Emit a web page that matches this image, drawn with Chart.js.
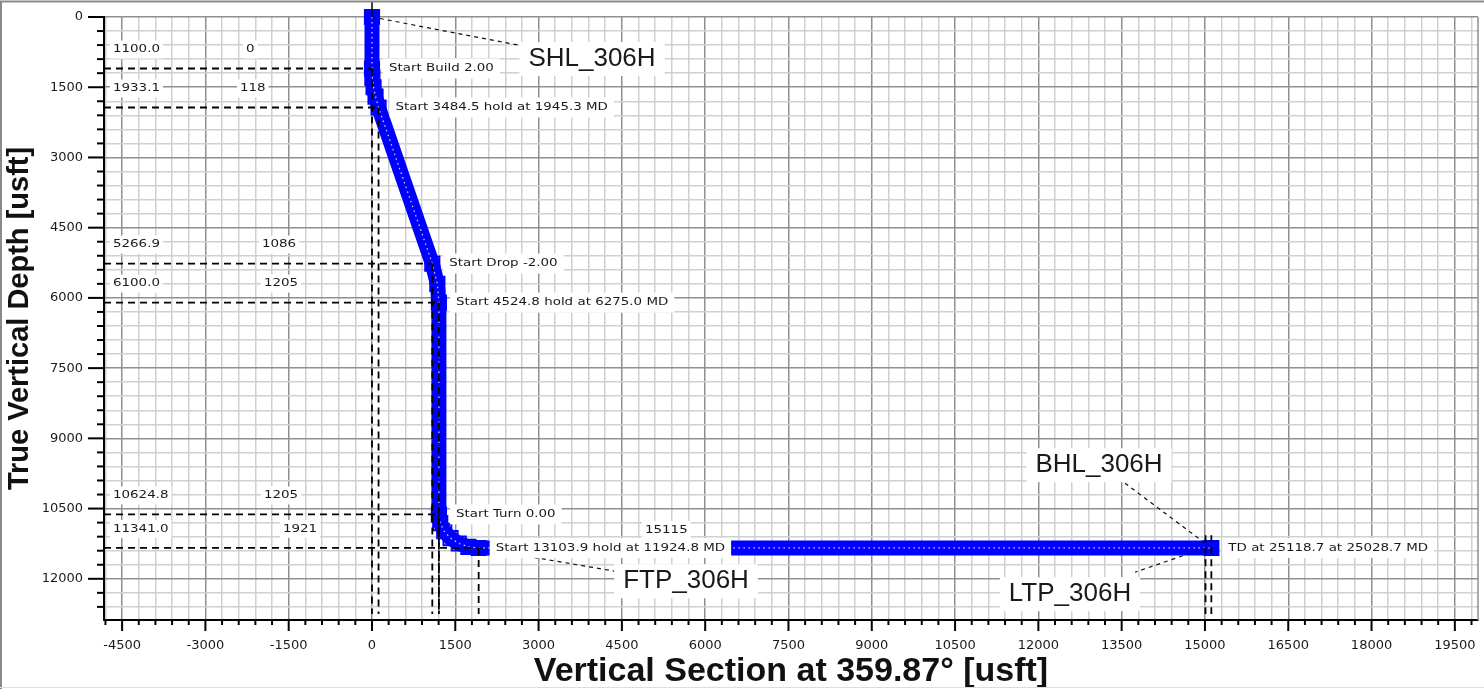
<!DOCTYPE html>
<html lang="en">
<head>
<meta charset="UTF-8" />
<title>Vertical Section 306H</title>
<script src="https://cdn.jsdelivr.net/npm/chart.js"></script>
<style>
  html, body { margin: 0; padding: 0; background: #fff; }
  canvas { display: block; }
</style>
</head>
<body>
<canvas id="secao" width="1484" height="689"></canvas>
<script>
// well path stations (vertical section / TVD, usft)
var pathVs  = [0, 0, 7, 28, 64, 118, 1086, 1177, 1205, 1205, 1229, 1301, 1415, 1563, 1736, 1921, 15115];
var pathTvd = [0, 1100, 1300, 1500, 1700, 1933.1, 5266.9, 5700, 6100, 10624.8, 10810, 10983, 11131, 11245, 11317, 11341, 11341];

// section points with their dashed guide lines
var secTvd = [1100.0, 1933.1, 5266.9, 6100.0, 10624.8, 11341.0];
var secVs = [0, 118, 1086, 1205, 1205, 1921];
var secNotes = ['Start Build 2.00', 'Start 3484.5 hold at 1945.3 MD', 'Start Drop -2.00',
  'Start 4524.8 hold at 6275.0 MD', 'Start Turn 0.00', 'Start 13103.9 hold at 11924.8 MD'];

var tdVs = 15115;
var tdTvd = 11341;
var tdNote = 'TD at 25118.7 at 25028.7 MD';

var targetNames = ['SHL_306H', 'FTP_306H', 'LTP_306H', 'BHL_306H'];
var targetVs = [0, 1921, 15010, 15115];
var targetTvd = [0, 11341, 11341, 11341];

var xMajor = [-4500, -3000, -1500, 0, 1500, 3000, 4500, 6000, 7500, 9000, 10500, 12000, 13500, 15000, 16500, 18000, 19500];
var yMajor = [0, 1500, 3000, 4500, 6000, 7500, 9000, 10500, 12000];

var X_MIN = -4826, X_MAX = 19917, Y_MAX = 12880;
var PE_GUIA = 12750;     // where the dropped guides stop
var ALVO_TOPO = 11070;   // top of the LTP/BHL marks

// placement only (not data)
var layoutCfg = {
  vsColX: [246, 240, 262, 264, 264, 283],
  tdVsX: 645,
  calloutAt: [[3962, 897], [5655, 12051], [12570, 12329], [13092, 9573]],
  leaderEnd: [[2629, 598], [4376, 11838], [13740, 11859], [13560, 9957]]
};

var FONTE_PEQ = "11px 'DejaVu Sans'";
var FONTE_ALVO = "26px 'Liberation Sans', Arial";

function pontos(vs, tvd) {
  return vs.map(function (v, i) { return { x: v, y: tvd[i] }; });
}

function grade(inicio, fim) {
  var v = [];
  for (var t = inicio; t <= fim; t += 300) v.push({ value: t });
  return v;
}

// keep the plot box where it is: no extra room for overhanging labels
function semFolga(s) {
  s.paddingTop = 0; s.paddingBottom = 0; s.paddingLeft = 0; s.paddingRight = 0;
}

function caixaTexto(ctx, txt, x, y, fonte, esticar, alinhar, padX, meiaAlt) {
  ctx.save();
  ctx.font = fonte;
  var w = ctx.measureText(txt).width * esticar;
  var x0 = alinhar === 'center' ? x - w / 2 : x;
  ctx.fillStyle = '#fff';
  ctx.fillRect(x0 - padX, y - meiaAlt, w + 2 * padX, 2 * meiaAlt);
  ctx.translate(x0, y);
  ctx.scale(esticar, 1);
  ctx.fillStyle = '#1a1a1a';
  ctx.textAlign = 'left';
  ctx.textBaseline = 'middle';
  ctx.fillText(txt, 0, 0);
  ctx.restore();
}

var guias = [];
secTvd.forEach(function (t, i) {
  guias.push([{ x: X_MIN, y: t }, { x: secVs[i], y: t }]);
  guias.push([{ x: secVs[i], y: t }, { x: secVs[i], y: PE_GUIA }]);
});
[2, 3].forEach(function (i) {
  guias.push([{ x: targetVs[i], y: ALVO_TOPO }, { x: targetVs[i], y: PE_GUIA }]);
});

var datasets = guias.map(function (g) {
  return {
    data: g, showLine: true, borderColor: '#000', borderWidth: 1.8,
    borderDash: [7, 5], pointRadius: 0, order: 1
  };
});

datasets.push({
  data: [{ x: 0, y: -320 }, { x: 0, y: 0 }], showLine: true, borderColor: '#000',
  borderWidth: 1.5, pointRadius: 0, order: 1, clip: false
});

datasets.push({
  label: 'Plan 306H', data: pontos(pathVs, pathTvd), showLine: true,
  borderColor: '#0000ff', borderWidth: 15, borderCapStyle: 'square',
  pointStyle: 'rect', pointRadius: 10, pointBorderColor: '#0000ff',
  pointBackgroundColor: 'rgba(0,0,0,0)', pointBorderWidth: 2,
  order: 4, clip: { left: 0, top: false, right: 0, bottom: 0 }
});

datasets.push({
  data: pontos(pathVs, pathTvd), showLine: true, borderColor: 'rgba(255,255,255,0.85)',
  borderWidth: 1.2, borderDash: [1.5, 3.5], pointRadius: 0, order: 3,
  clip: { left: 0, top: false, right: 0, bottom: 0 }
});

var anotacoes = {
  id: 'anotacoes',
  beforeDraw: function (chart) {
    var ctx = chart.ctx;
    ctx.save();
    ctx.fillStyle = '#fff';
    ctx.fillRect(0, 0, chart.width, chart.height);
    ctx.restore();
  },
  afterDatasetsDraw: function (chart) {
    var ctx = chart.ctx, xs = chart.scales.x, ys = chart.scales.y, area = chart.chartArea;

    // leader lines to the target names
    ctx.save();
    ctx.strokeStyle = '#111';
    ctx.lineWidth = 1.2;
    ctx.setLineDash([4, 4]);
    targetNames.forEach(function (n, i) {
      ctx.beginPath();
      ctx.moveTo(xs.getPixelForValue(targetVs[i]), ys.getPixelForValue(targetTvd[i]));
      ctx.lineTo(xs.getPixelForValue(layoutCfg.leaderEnd[i][0]), ys.getPixelForValue(layoutCfg.leaderEnd[i][1]));
      ctx.stroke();
    });
    ctx.restore();

    // notes next to the well
    secNotes.forEach(function (t, i) {
      caixaTexto(ctx, t, xs.getPixelForValue(secVs[i]) + 17, ys.getPixelForValue(secTvd[i]),
        FONTE_PEQ, 1.22, 'left', 6, 10);
    });
    caixaTexto(ctx, tdNote, xs.getPixelForValue(tdVs) + 17, ys.getPixelForValue(tdTvd),
      FONTE_PEQ, 1.22, 'left', 6, 10);

    // TVD / VS table above each guide
    secTvd.forEach(function (t, i) {
      var py = ys.getPixelForValue(t) - 19;
      caixaTexto(ctx, t.toFixed(1), area.left + 9, py, FONTE_PEQ, 1.22, 'left', 3, 9);
      caixaTexto(ctx, String(secVs[i]), layoutCfg.vsColX[i], py, FONTE_PEQ, 1.22, 'left', 3, 9);
    });
    caixaTexto(ctx, String(tdVs), layoutCfg.tdVsX, ys.getPixelForValue(tdTvd) - 18, FONTE_PEQ, 1.22, 'left', 3, 9);

    // target names
    targetNames.forEach(function (n, i) {
      caixaTexto(ctx, n, xs.getPixelForValue(layoutCfg.calloutAt[i][0]),
        ys.getPixelForValue(layoutCfg.calloutAt[i][1]), FONTE_ALVO, 1.0, 'center', 9, 17);
    });
  },
  afterDraw: function (chart) {
    var ctx = chart.ctx, xs = chart.scales.x, ys = chart.scales.y, area = chart.chartArea;
    ctx.save();
    // right edge of the plot
    ctx.strokeStyle = '#8f8f8f';
    ctx.lineWidth = 1.5;
    ctx.beginPath();
    ctx.moveTo(area.right, area.top);
    ctx.lineTo(area.right, area.bottom);
    ctx.stroke();

    // tick marks, long on the labelled ones
    ctx.strokeStyle = '#000';
    ctx.lineWidth = 2;
    xs.ticks.forEach(function (t) {
      var px = xs.getPixelForValue(t.value);
      var len = xMajor.indexOf(t.value) >= 0 ? 11 : 5;
      ctx.beginPath();
      ctx.moveTo(px, area.bottom);
      ctx.lineTo(px, area.bottom + len);
      ctx.stroke();
    });
    ys.ticks.forEach(function (t) {
      var py = ys.getPixelForValue(t.value);
      var len = yMajor.indexOf(t.value) >= 0 ? 16 : 7;
      ctx.beginPath();
      ctx.moveTo(area.left - len, py);
      ctx.lineTo(area.left, py);
      ctx.stroke();
    });

    // outer frame
    ctx.strokeStyle = '#8a8a8a';
    ctx.lineWidth = 2;
    ctx.beginPath();
    ctx.moveTo(1, chart.height);
    ctx.lineTo(1, 1.5);
    ctx.lineTo(chart.width, 1.5);
    ctx.stroke();
    ctx.strokeStyle = '#dddddd';
    ctx.lineWidth = 1;
    ctx.beginPath();
    ctx.moveTo(0, chart.height - 1.5);
    ctx.lineTo(chart.width, chart.height - 1.5);
    ctx.stroke();
    ctx.restore();
  }
};

function corGrade(lista) {
  return function (c) {
    return c.tick && lista.indexOf(c.tick.value) >= 0 ? '#8f8f8f' : '#d0d0d0';
  };
}

new Chart(document.getElementById('secao'), {
  type: 'scatter',
  data: { datasets: datasets },
  plugins: [anotacoes],
  options: {
    responsive: false,
    animation: false,
    layout: { autoPadding: false, padding: { top: 17, right: 6, bottom: 0, left: 0 } },
    plugins: { legend: { display: false }, tooltip: { enabled: false } },
    scales: {
      x: {
        type: 'linear', position: 'bottom', min: X_MIN, max: X_MAX,
        afterBuildTicks: function (s) { s.ticks = grade(-4800, 19800); },
        afterFit: function (s) { s.height = 69; semFolga(s); },
        grid: { color: corGrade(xMajor), lineWidth: 1.5, drawTicks: false },
        border: { color: '#000', width: 2 },
        ticks: {
          autoSkip: false, maxRotation: 0, padding: 18, color: '#1a1a1a',
          font: { family: "'DejaVu Sans'", size: 13 },
          callback: function (v) { return xMajor.indexOf(v) >= 0 ? String(v) : ''; }
        },
        title: {
          display: true, text: 'Vertical Section at 359.87° [usft]', color: '#111',
          font: { family: "'Liberation Sans', Arial", size: 34, weight: 'bold', lineHeight: 1 },
          padding: { top: 0, bottom: 0 }
        }
      },
      y: {
        type: 'linear', reverse: true, min: 0, max: Y_MAX,
        afterBuildTicks: function (s) { s.ticks = grade(0, 12600); },
        afterFit: function (s) { s.width = 104; semFolga(s); },
        grid: { color: corGrade(yMajor), lineWidth: 1.5, drawTicks: false },
        border: { color: '#000', width: 2 },
        ticks: {
          autoSkip: false, padding: 21, color: '#1a1a1a',
          font: { family: "'DejaVu Sans'", size: 13 },
          callback: function (v) { return yMajor.indexOf(v) >= 0 ? String(v) : ''; }
        },
        title: {
          display: true, text: 'True Vertical Depth [usft]', color: '#111',
          font: { family: "'Liberation Sans', Arial", size: 29, weight: 'bold', lineHeight: 1 },
          padding: { top: 5, bottom: 0 }
        }
      }
    }
  }
});
</script>
</body>
</html>
